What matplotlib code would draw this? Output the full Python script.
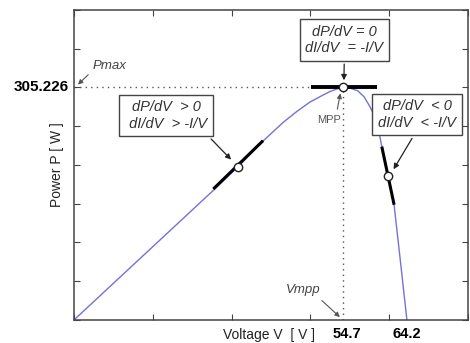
import numpy as np
import matplotlib
matplotlib.use("Agg")
import matplotlib.pyplot as plt

plt.rcParams['font.family'] = ['Liberation Sans', 'DejaVu Sans']

# P-V curve of the panel
volts = [0, 28.6, 33.3, 38.4, 42.4, 45.3, 47.9, 50.2, 52.0, 53.5, 54.7,
         56.2, 57.6, 58.9, 60.1, 61.0, 61.7, 62.5, 63.8, 65.0, 66.3, 67.6]
power = [0, 172, 201, 235, 259, 274, 286, 294, 300, 303.5, 305.226,
         304, 301, 293, 280, 268, 254, 228, 190, 151, 76, 0]

p_max = 305.226
v_mpp = 54.7

# operating points (circles) and the tangent pieces drawn through them
op_v = [33.3, 54.7, 63.8]
op_p = [201.3, 305.226, 189.5]
tangents = [([28.3, 38.4], [172, 235.5]),
             ([48.1, 61.5], [305.226, 305.226]),
             ([62.5, 65.0], [227.6, 151.3])]
tangent_w = [2.2, 2.8, 2.2]

x_labels = ["54.7", "64.2"]
x_label_pos = [55.5, 67.6]

fig = plt.figure(figsize=(4.7, 3.43), dpi=100)
ax = fig.add_axes([0.1574, 0.0671, 0.8383, 0.9038])

ax.plot(volts, power, color="#7272d8", lw=1.0, zorder=2)
for (tv, tp), w in zip(tangents, tangent_w):
    ax.plot(tv, tp, color="black", lw=w, solid_capstyle="butt", zorder=3)
ax.plot(op_v, op_p, "o", ms=6, mfc="white", mec="#222222", mew=1.0, zorder=4)

# dotted guide lines to MPP
ax.plot([0, v_mpp], [p_max, p_max], ls=(0, (1, 3)), color="#555555", lw=1.0, zorder=1)
ax.plot([v_mpp, v_mpp], [0, p_max], ls=(0, (1, 3)), color="#555555", lw=1.0, zorder=1)

ax.set_xlim(0, 80)
ax.set_ylim(0, p_max * 8 / 6)
ax.set_xticks(np.arange(0, 81, 16))
ax.set_yticks(np.arange(0, 9) * p_max / 6)
ax.tick_params(direction="in", top=True, right=True, length=4, color="#444444",
               labelbottom=False, labelleft=False)
for s in ax.spines.values():
    s.set_color("#444444")
    s.set_linewidth(1.1)

ax.set_ylabel("Power P [ W ]", fontsize=10, color="#222222", labelpad=7)

# hand-made axis labels
ax.text(-1.0, p_max, "305.226", ha="right", va="center", fontsize=11,
        fontweight="bold")
for lab, xp in zip(x_labels, x_label_pos):
    ax.text(xp, -9, lab, ha="center", va="top", fontsize=10.5, fontweight="bold")
ax.text(39.5, -10, "Voltage V  [ V ]", ha="center", va="top", fontsize=10, color="#222222")

box = dict(boxstyle="square,pad=0.4", fc="white", ec="#444444", lw=1.0)
arr = dict(arrowstyle="-|>", color="#222222", lw=0.9, mutation_scale=8)

ax.annotate("dP/dV  > 0\n dI/dV  > -I/V", xy=(32.3, 207.9), xytext=(18.7, 268.4),
            ha="center", va="center", fontsize=10.5, style="italic", color="#333333",
            bbox=box, arrowprops=dict(arr, relpos=(0.95, 0.0)))
ax.annotate("dP/dV = 0\ndI/dV  = -I/V", xy=(54.8, 311), xytext=(54.9, 367.7),
            ha="center", va="center", fontsize=10.5, style="italic", color="#333333",
            bbox=box, arrowprops=dict(arr, relpos=(0.5, 0.0)))
ax.annotate("dP/dV  < 0\ndI/dV  < -I/V", xy=(64.6, 194.7), xytext=(69.7, 269.7),
            ha="center", va="center", fontsize=10.5, style="italic", color="#333333",
            bbox=box, arrowprops=dict(arr, relpos=(0.5, 0.0)))

garr = dict(arrowstyle="-|>", color="#555555", lw=0.8, mutation_scale=7)
ax.annotate("MPP", xy=(54.2, 301), xytext=(51.8, 263), ha="center", va="center",
            fontsize=8, color="#555555", arrowprops=dict(garr, relpos=(0.8, 1.0)))
ax.annotate("Pmax", xy=(0.4, 306.5), xytext=(7.3, 332.8), ha="center", va="center",
            fontsize=9.5, style="italic", color="#444444",
            arrowprops=dict(garr, relpos=(0.0, 0.2)))
ax.annotate("Vmpp", xy=(54.4, 1.3), xytext=(46.5, 39.5), ha="center", va="center",
            fontsize=9.5, style="italic", color="#444444",
            arrowprops=dict(garr, relpos=(0.9, 0.0)))

fig.savefig("out.png", dpi=100)
